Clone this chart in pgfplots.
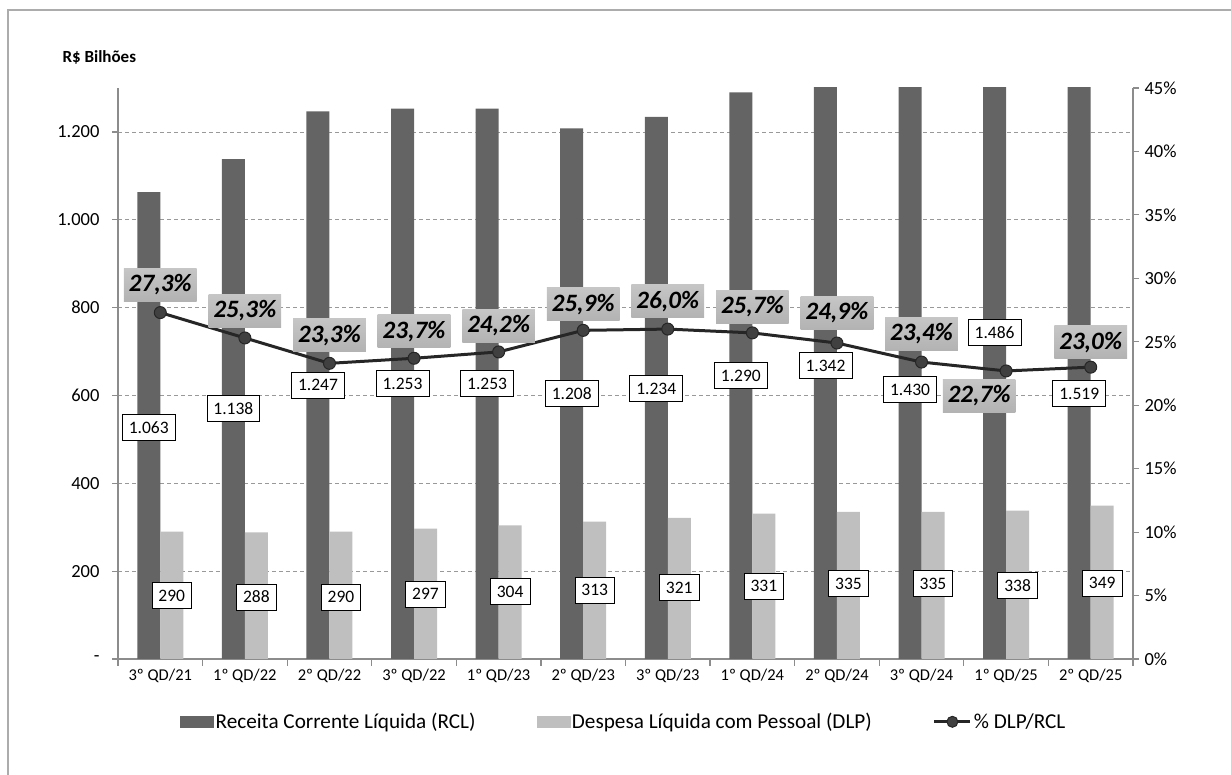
\documentclass[border=0pt]{standalone}
\usepackage{fontspec}
\setmainfont{Carlito}
\usepackage{pgfplots}
\pgfplotsset{compat=1.18}

\definecolor{rcl}{HTML}{646464}
\definecolor{dlp}{HTML}{BFBFBF}
\definecolor{pline}{HTML}{262626}
\definecolor{pmark}{HTML}{404040}
\definecolor{axisgray}{HTML}{8C8C8C}

\tikzset{
  vallabel/.style={draw=black, line width=0.8pt, fill=white, inner xsep=6.5pt, inner ysep=0pt,
    minimum height=26pt, font=\fontsize{17.5}{19}\selectfont},
  pctlabel/.style={top color=gray!45, middle color=gray!5, bottom color=gray!60, draw=none,
    inner xsep=5pt, inner ysep=0pt, minimum height=33pt,
    font=\fontsize{25}{27}\selectfont\bfseries\itshape},
}

\pgfplotsset{
  commonaxis/.style={
    at={(118pt,116pt)}, anchor=south west, scale only axis,
    width=1015pt, height=571pt,
    xmin=-0.5, xmax=11.5,
    tick align=outside,
    axis line style={draw=axisgray, line width=1.5pt},
    every tick/.style={draw=axisgray, line width=1.2pt},
    major tick length=6pt, minor tick length=7pt,
    ticklabel style={font=\fontsize{18.5}{20}\selectfont},
    /pgf/number format/assume math mode=true,
  },
  ratiolegend/.style={legend image code/.code={%
    \draw[pline, line width=3pt] (0pt,0pt) -- (36pt,0pt);
    \draw[pline, fill=pmark, line width=1pt] (18pt,0pt) circle (5.5pt);}},
}

\begin{document}
\begin{tikzpicture}
\useasboundingbox (0,0) rectangle (1231pt,775pt);
% outer frame of the chart area
\draw[gray!65, line width=1.5pt] (8pt,-5pt) -- (8pt,765pt) -- (1240pt,765pt);
\node[anchor=west, font=\fontsize{17}{19}\selectfont\bfseries] at (59pt,718pt) {R\$ Bilhões};

% values in R$ billions
\begin{axis}[commonaxis,
  ymin=0, ymax=1300,
  axis x line*=bottom, axis y line*=left,
  xtick={0,...,11},
  xticklabels={3º QD/21,1º QD/22,2º QD/22,3º QD/22,1º QD/23,2º QD/23,3º QD/23,1º QD/24,2º QD/24,3º QD/24,1º QD/25,2º QD/25},
  major x tick style={draw=none},
  minor xtick={-0.5,0.5,...,11.5},
  xticklabel style={yshift=-1pt, font=\fontsize{16.5}{18}\selectfont},
  ytick={0,200,...,1200},
  yticklabels={-,200,400,600,800,1.000,1.200},
  yticklabel style={xshift=-9pt},
  ymajorgrids, grid style={dash pattern=on 4pt off 3pt, gray!80, line width=0.8pt},
]
\addplot[ybar, bar width=23pt, bar shift=-11.5pt, fill=rcl, draw=none]
  coordinates {(0,1063) (1,1138) (2,1247) (3,1253) (4,1253) (5,1208)
               (6,1234) (7,1290) (8,1342) (9,1430) (10,1486) (11,1519)};
\addplot[ybar, bar width=23pt, bar shift=11.5pt, fill=dlp, draw=none]
  coordinates {(0,290) (1,288) (2,290) (3,297) (4,304) (5,313)
               (6,321) (7,331) (8,335) (9,335) (10,338) (11,349)};
% RCL value labels
\node[vallabel, xshift=-11.5pt] at (axis cs:0,527) {1.063};
\node[vallabel, xshift=-11.5pt] at (axis cs:1,570) {1.138};
\node[vallabel, xshift=-11.5pt] at (axis cs:2,623) {1.247};
\node[vallabel, xshift=-11.5pt] at (axis cs:3,627) {1.253};
\node[vallabel, xshift=-11.5pt] at (axis cs:4,627) {1.253};
\node[vallabel, xshift=-11.5pt] at (axis cs:5,604) {1.208};
\node[vallabel, xshift=-11.5pt] at (axis cs:6,616) {1.234};
\node[vallabel, xshift=-11.5pt] at (axis cs:7,645) {1.290};
\node[vallabel, xshift=-11.5pt] at (axis cs:8,668) {1.342};
\node[vallabel, xshift=-11.5pt] at (axis cs:9,613) {1.430};
\node[vallabel, xshift=-11.5pt] at (axis cs:10,743) {1.486};
\node[vallabel, xshift=-11.5pt] at (axis cs:11,604) {1.519};
% DLP value labels
\node[vallabel, xshift=11.5pt] at (axis cs:0,144) {290};
\node[vallabel, xshift=11.5pt] at (axis cs:1,141) {288};
\node[vallabel, xshift=11.5pt] at (axis cs:2,141) {290};
\node[vallabel, xshift=11.5pt] at (axis cs:3,148) {297};
\node[vallabel, xshift=11.5pt] at (axis cs:4,153) {304};
\node[vallabel, xshift=11.5pt] at (axis cs:5,157) {313};
\node[vallabel, xshift=11.5pt] at (axis cs:6,162) {321};
\node[vallabel, xshift=11.5pt] at (axis cs:7,166) {331};
\node[vallabel, xshift=11.5pt] at (axis cs:8,171) {335};
\node[vallabel, xshift=11.5pt] at (axis cs:9,171) {335};
\node[vallabel, xshift=11.5pt] at (axis cs:10,168) {338};
\node[vallabel, xshift=11.5pt] at (axis cs:11,173) {349};
\end{axis}

% ratio DLP/RCL in percent
\begin{axis}[commonaxis,
  ymin=0, ymax=45,
  axis x line=none, axis y line*=right,
  ytick={0,5,...,45},
  yticklabels={0\%,5\%,10\%,15\%,20\%,25\%,30\%,35\%,40\%,45\%},
  yticklabel style={xshift=2pt},
  legend columns=3,
  legend style={at={(0.0611,-0.110)}, anchor=west, draw=none, fill=none, inner sep=0pt,
    font=\fontsize{21.2}{23}\selectfont,
    /tikz/every even column/.append style={column sep=59pt}},
]
\addlegendimage{legend image code/.code={\fill[rcl] (0pt,-5pt) rectangle (33pt,6pt);}}
\addlegendimage{legend image code/.code={\fill[dlp] (0pt,-5pt) rectangle (33pt,6pt);}}
\addplot[pline, line width=3pt, mark=*, mark size=6pt,
  mark options={fill=pmark, draw=pline, line width=1pt}, ratiolegend]
  coordinates {(0,27.3) (1,25.3) (2,23.3) (3,23.7) (4,24.2) (5,25.9)
               (6,26.0) (7,25.7) (8,24.9) (9,23.4) (10,22.7) (11,23.0)};
\legend{Receita Corrente Líquida (RCL)\hspace{40pt},Despesa Líquida com Pessoal (DLP),\% DLP/RCL}
% percentage labels
\node[pctlabel, yshift=28pt] at (axis cs:0,27.3) {27,3\%};
\node[pctlabel, yshift=27pt] at (axis cs:1,25.3) {25,3\%};
\node[pctlabel, yshift=28pt] at (axis cs:2,23.3) {23,3\%};
\node[pctlabel, yshift=27pt] at (axis cs:3,23.7) {23,7\%};
\node[pctlabel, yshift=26pt] at (axis cs:4,24.2) {24,2\%};
\node[pctlabel, yshift=26pt] at (axis cs:5,25.9) {25,9\%};
\node[pctlabel, yshift=28pt] at (axis cs:6,26.0) {26,0\%};
\node[pctlabel, yshift=26pt] at (axis cs:7,25.7) {25,7\%};
\node[pctlabel, yshift=30pt] at (axis cs:8,24.9) {24,9\%};
\node[pctlabel, yshift=28pt] at (axis cs:9,23.4) {23,4\%};
\node[pctlabel, xshift=-27pt, yshift=-25pt] at (axis cs:10,22.7) {22,7\%};
\node[pctlabel, yshift=25pt] at (axis cs:11,23.0) {23,0\%};
\end{axis}
\end{tikzpicture}
\end{document}
